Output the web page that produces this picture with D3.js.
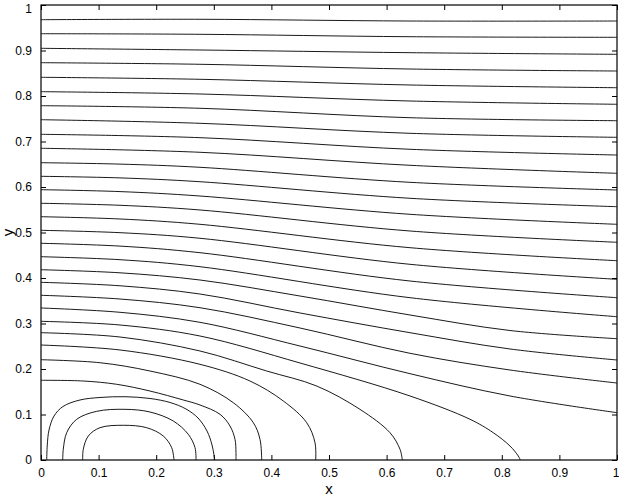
<!DOCTYPE html>
<html>
<head>
<meta charset="utf-8">
<script src="https://cdn.jsdelivr.net/npm/d3@7"></script>
<style>
  html, body { margin: 0; padding: 0; background: #fff; }
  svg { display: block; }
  text { font-family: "Liberation Sans", Arial, Helvetica, sans-serif; fill: #000; }
</style>
</head>
<body>
<svg id="chart" width="619" height="496"></svg>
<script>
// Tick values for both axes
const xTicks = [0, 0.1, 0.2, 0.3, 0.4, 0.5, 0.6, 0.7, 0.8, 0.9, 1];
const yTicks = [0, 0.1, 0.2, 0.3, 0.4, 0.5, 0.6, 0.7, 0.8, 0.9, 1];
const xLabel = "x";
const yLabel = "y";

// Contour lines, [x, y] in data units
// Lines crossing the full width (top to bottom)
const line01 = [[0, 0.9677], [0.276, 0.9686], [0.6406, 0.9648], [1, 0.9648]];
const line02 = [[0, 0.9369], [0.276, 0.9356], [0.6406, 0.9303], [1, 0.9290]];
const line03 = [[0, 0.9048], [0.276, 0.9011], [0.6406, 0.8952], [1, 0.8916]];
const line04 = [[0, 0.8732], [0.276, 0.8697], [0.6406, 0.8593], [1, 0.8549]];
const line05 = [[0, 0.8411], [0.276, 0.8367], [0.6406, 0.8242], [1, 0.8182]];
const line06 = [[0, 0.8095], [0.276, 0.8044], [0.6406, 0.7890], [1, 0.7818]];
const line07 = [[0, 0.7787], [0.276, 0.7730], [0.6406, 0.7523], [1, 0.7457]];
const line08 = [[0, 0.7479], [0.276, 0.7400], [0.6406, 0.7180], [1, 0.7092]];
const line09 = [[0, 0.7158], [0.276, 0.7084], [0.6406, 0.6829], [1, 0.6703]];
const line10 = [[0, 0.6851], [0.276, 0.6763], [0.6406, 0.6477], [1, 0.6301]];
const line11 = [[0, 0.6534], [0.1372, 0.6503], [0.276, 0.6433], [0.6406, 0.6103], [1, 0.5934]];
const line12 = [[0, 0.6235], [0.1372, 0.6200], [0.276, 0.6116], [0.6406, 0.5752], [1, 0.5567]];
const line13 = [[0, 0.5941], [0.1372, 0.5899], [0.276, 0.5802], [0.6406, 0.5400], [1, 0.5180]];
const line14 = [[0, 0.5642], [0.1372, 0.5598], [0.276, 0.5495], [0.6406, 0.5033], [1, 0.4785]];
const line15 = [[0, 0.5347], [0.1372, 0.5297], [0.276, 0.5180], [0.6406, 0.4666], [1, 0.4380]];
const line16 = [[0, 0.5048], [0.1372, 0.4996], [0.276, 0.4873], [0.6406, 0.4301], [1, 0.3971]];
const line17 = [[0, 0.4763], [0.1372, 0.4701], [0.276, 0.4556], [0.6406, 0.3934], [1, 0.3567]];
const line18 = [[0, 0.4468], [0.1372, 0.4402], [0.276, 0.4248], [0.6406, 0.3567], [1, 0.3149]];
const line19 = [[0, 0.4182], [0.1372, 0.4114], [0.276, 0.3956], [0.4497, 0.3604], [0.6406, 0.3187], [0.8142, 0.2846], [1, 0.2666]];
const line20 = [[0, 0.3905], [0.1372, 0.3829], [0.276, 0.3648], [0.4497, 0.3231], [0.6406, 0.2798], [0.8142, 0.2440], [1, 0.2198]];
const line21 = [[0, 0.3620], [0.1372, 0.3538], [0.276, 0.3347], [0.4497, 0.2901], [0.6406, 0.2345], [0.8142, 0.1978], [1, 0.1692]];
const line22 = [[0, 0.3341], [0.1372, 0.3246], [0.276, 0.3026], [0.4497, 0.2505], [0.6406, 0.1897], [0.8142, 0.1407], [1, 0.1040]];
// Lines from the left edge down to the bottom edge
const line23 = [[0, 0.3048], [0.1372, 0.2967], [0.276, 0.2725], [0.4497, 0.2132], [0.6406, 0.1407], [0.7448, 0.0895], [0.7852, 0.0600], [0.8142, 0.0308], [0.8286, 0.0088], [0.8321, 0]];
const line24 = [[0, 0.2798], [0.1372, 0.2703], [0.276, 0.2396], [0.3918, 0.1956], [0.4786, 0.1626], [0.5538, 0.1113], [0.6059, 0.0600], [0.6233, 0.0235], [0.6273, 0]];
const line25 = [[0, 0.2527], [0.1372, 0.2418], [0.276, 0.2103], [0.3628, 0.1736], [0.4207, 0.1297], [0.4613, 0.0820], [0.4757, 0.0380], [0.4769, 0]];
const line26 = [[0, 0.2204], [0.1024, 0.2138], [0.1892, 0.1956], [0.276, 0.1664], [0.3339, 0.1259], [0.3686, 0.0820], [0.3802, 0.0455], [0.3832, 0]];
const line27 = [[0, 0.1752], [0.0734, 0.1736], [0.1314, 0.1664], [0.1892, 0.1516], [0.2470, 0.1319], [0.2760, 0.1209], [0.3108, 0.1004], [0.3281, 0.0747], [0.3368, 0.0455], [0.3385, 0.0160], [0.3385, 0]];
// Arches standing on the bottom edge
const loop3 = [[0.0099, 0], [0.0109, 0.0330], [0.0139, 0.0659], [0.0226, 0.0967], [0.0382, 0.1176], [0.0677, 0.1319], [0.1024, 0.1374], [0.1458, 0.1391], [0.1892, 0.1352], [0.2240, 0.1264], [0.2517, 0.1121], [0.2726, 0.0923], [0.2882, 0.0637], [0.2969, 0.0330], [0.3016, 0]];
const loop2 = [[0.0377, 0], [0.0387, 0.0235], [0.0446, 0.0600], [0.0620, 0.0895], [0.0967, 0.1070], [0.1458, 0.1114], [0.1892, 0.1055], [0.2297, 0.0857], [0.2557, 0.0565], [0.2674, 0.0270], [0.2691, 0]];
const loop1 = [[0.0724, 0], [0.0734, 0.0235], [0.0821, 0.0527], [0.1024, 0.0710], [0.1429, 0.0763], [0.1835, 0.0710], [0.2123, 0.0527], [0.2269, 0.0270], [0.2309, 0]];

const contourLines = [line01, line02, line03, line04, line05, line06, line07, line08, line09, line10,
  line11, line12, line13, line14, line15, line16, line17, line18, line19, line20, line21, line22,
  line23, line24, line25, line26, line27, loop3, loop2, loop1];

// Layout
const W = 619, H = 496;
const margin = { left: 41, right: 2, top: 5, bottom: 36 };
const svg = d3.select("#chart");
const x = d3.scaleLinear().domain([0, 1]).range([margin.left, W - margin.right]);
const y = d3.scaleLinear().domain([0, 1]).range([H - margin.bottom, margin.top]);

svg.append("defs").append("clipPath").attr("id", "clip")
  .append("rect")
  .attr("x", x(0)).attr("y", y(1))
  .attr("width", x(1) - x(0)).attr("height", y(0) - y(1));

const lineGen = d3.line()
  .x(d => x(d[0])).y(d => y(d[1]))
  .curve(d3.curveCatmullRom.alpha(0.5));

svg.append("g").attr("clip-path", "url(#clip)")
  .selectAll("path").data(contourLines).join("path")
  .attr("d", lineGen)
  .attr("fill", "none")
  .attr("stroke", "#000")
  .attr("stroke-width", 0.9);

// Axes (MATLAB style: ticks pointing inward, on all four sides)
const tickLen = 5;
const fontSize = 12;
const bottomAxis = d3.axisBottom(x).tickValues(xTicks).tickFormat(d3.format("~g")).tickSizeInner(-tickLen).tickSizeOuter(0).tickPadding(tickLen + 3);
const leftAxis = d3.axisLeft(y).tickValues(yTicks).tickFormat(d3.format("~g")).tickSizeInner(-tickLen).tickSizeOuter(0).tickPadding(tickLen + 4);
const topAxis = d3.axisTop(x).tickValues(xTicks).tickFormat("").tickSizeInner(-tickLen).tickSizeOuter(0);
const rightAxis = d3.axisRight(y).tickValues(yTicks).tickFormat("").tickSizeInner(-tickLen).tickSizeOuter(0);

function style(g) {
  g.selectAll(".domain").remove();
  g.selectAll("line").attr("stroke", "#000").attr("stroke-width", 1);
  g.selectAll("text").attr("font-size", fontSize).attr("fill", "#000")
    .style("font-family", '"Liberation Sans", Arial, sans-serif');
}
const gBottom = svg.append("g").attr("transform", `translate(0,${y(0)})`).call(bottomAxis).call(style);
// keep the last label inside the page
gBottom.selectAll(".tick").filter(d => d === 1).select("text").attr("text-anchor", "end").attr("dx", 2);
const gLeft = svg.append("g").attr("transform", `translate(${x(0)},0)`).call(leftAxis).call(style);
gLeft.selectAll(".tick").filter(d => d === 1).select("text").attr("dy", "0.6em");
svg.append("g").attr("transform", `translate(0,${y(1)})`).call(topAxis).call(style);
svg.append("g").attr("transform", `translate(${x(1)},0)`).call(rightAxis).call(style);

// Box
svg.append("rect")
  .attr("x", x(0)).attr("y", y(1))
  .attr("width", x(1) - x(0)).attr("height", y(0) - y(1))
  .attr("fill", "none").attr("stroke", "#000").attr("stroke-width", 1.2);

// Axis labels
svg.append("text")
  .attr("x", (x(0) + x(1)) / 2).attr("y", 494)
  .attr("text-anchor", "middle").attr("font-size", 15)
  .text(xLabel);
svg.append("text")
  .attr("transform", `translate(13,${(y(0) + y(1)) / 2}) rotate(-90)`)
  .attr("text-anchor", "middle").attr("font-size", 15)
  .text(yLabel);
</script>
</body>
</html>
